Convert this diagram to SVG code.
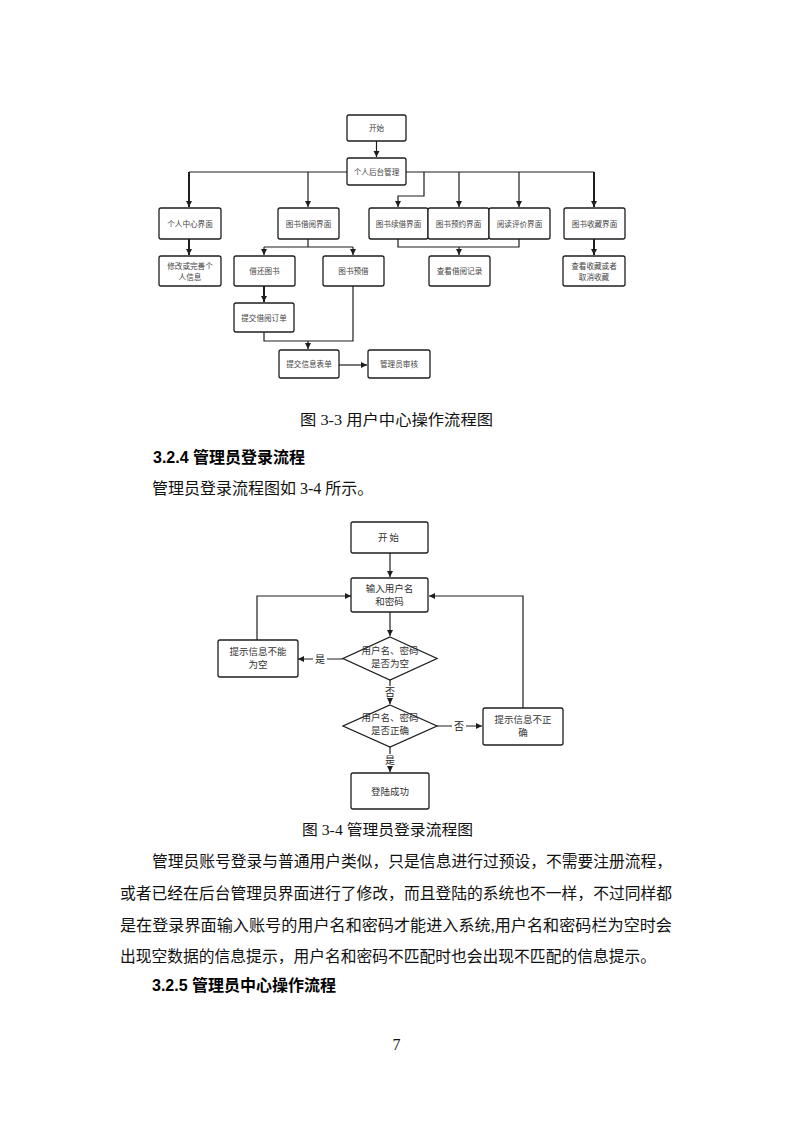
<svg xmlns="http://www.w3.org/2000/svg" width="793" height="1122" viewBox="0 0 793 1122">
<style>
.bg{fill:#fff}
.box{fill:#fff;stroke:#1e1e1e;stroke-width:1.3}
.c{fill:none;stroke:#1e1e1e;stroke-width:1.2}
.thick{stroke-width:2}
.t{font-family:"Noto Sans CJK SC","Noto Sans",sans-serif;font-size:7.6px;fill:#444;text-anchor:middle}
.t2{font-family:"Noto Sans CJK SC","Noto Sans",sans-serif;font-size:9.5px;fill:#333;text-anchor:middle}
.lab{font-family:"Noto Sans CJK SC","Noto Sans",sans-serif;font-size:10px;fill:#222;text-anchor:middle}
.p{font-family:"Liberation Serif","Noto Sans CJK SC",serif;font-size:16px;fill:#111}
.cap{font-family:"Liberation Serif","Noto Sans CJK SC",serif;font-size:15px;fill:#111}
.h{font-family:"Liberation Sans","Noto Sans CJK SC",sans-serif;font-size:16px;font-weight:bold;fill:#000}
</style>
<defs>
<marker id="ar" markerUnits="userSpaceOnUse" markerWidth="7" markerHeight="7" refX="6" refY="3" orient="auto">
<path d="M0,0 L6,3 L0,6 z" fill="#1e1e1e"/>
</marker>
</defs>
<rect class="bg" x="0" y="0" width="793" height="1122"/>

<!-- Figure 3-3 connectors -->
<g id="connectors-fig33">
<path class="c" d="M376.5,141 V157" marker-end="url(#ar)"/>
<path class="c" d="M189,172 H594"/>
<path class="c thick" d="M189,172 V207" marker-end="url(#ar)"/>
<path class="c" d="M308,172 V207" marker-end="url(#ar)"/>
<path class="c" d="M424,172 V196 H398 V207" marker-end="url(#ar)"/>
<path class="c" d="M459,172 V207" marker-end="url(#ar)"/>
<path class="c" d="M519,172 V207" marker-end="url(#ar)"/>
<path class="c thick" d="M594,172 V207" marker-end="url(#ar)"/>
<path class="c thick" d="M189,239 V255" marker-end="url(#ar)"/>
<path class="c" d="M308,239 V247 M264,247 H353"/>
<path class="c" d="M264,247 V255" marker-end="url(#ar)"/>
<path class="c" d="M353,247 V255" marker-end="url(#ar)"/>
<path class="c" d="M398,239 V247 H519 V239"/>
<path class="c" d="M459,247 V255" marker-end="url(#ar)"/>
<path class="c thick" d="M594,239 V255" marker-end="url(#ar)"/>
<path class="c thick" d="M264,286 V302" marker-end="url(#ar)"/>
<path class="c" d="M264,332 V341 H353 V286"/>
<path class="c" d="M308,341 V349" marker-end="url(#ar)"/>
<path class="c" d="M339,365 H367" marker-end="url(#ar)"/>
</g>

<!-- Figure 3-3 nodes -->
<g id="n-start1"><rect class="box" x="347" y="115" width="59" height="26" rx="2"/><text class="t" x="376.5" y="131">开始</text></g>
<g id="n-backend"><rect class="box" x="347" y="158" width="59" height="27" rx="2"/><text class="t" x="376.5" y="174.5">个人后台管理</text></g>
<g id="n-center"><rect class="box" x="159" y="208" width="62" height="31" rx="2"/><text class="t" x="190" y="226.5">个人中心界面</text></g>
<g id="n-borrow"><rect class="box" x="278" y="208" width="61" height="31" rx="2"/><text class="t" x="308.5" y="226.5">图书借阅界面</text></g>
<g id="n-renew"><rect class="box" x="369" y="208" width="59" height="31" rx="2"/><text class="t" x="398.5" y="226.5">图书续借界面</text></g>
<g id="n-reserve"><rect class="box" x="428" y="208" width="61" height="31" rx="2"/><text class="t" x="458.5" y="226.5">图书预约界面</text></g>
<g id="n-review"><rect class="box" x="489" y="208" width="61" height="31" rx="2"/><text class="t" x="519.5" y="226.5">阅读评价界面</text></g>
<g id="n-collect"><rect class="box" x="564" y="208" width="61" height="31" rx="2"/><text class="t" x="594.5" y="226.5">图书收藏界面</text></g>
<g id="n-modify"><rect class="box" x="159" y="256" width="62" height="30" rx="2"/><text class="t" x="190" y="268.5">修改或完善个</text><text class="t" x="190" y="279.5">人信息</text></g>
<g id="n-return"><rect class="box" x="234" y="256" width="61" height="30" rx="2"/><text class="t" x="264.5" y="274">借还图书</text></g>
<g id="n-prebook"><rect class="box" x="323" y="256" width="61" height="30" rx="2"/><text class="t" x="353.5" y="274">图书预借</text></g>
<g id="n-record"><rect class="box" x="429" y="256" width="61" height="30" rx="2"/><text class="t" x="459.5" y="274">查看借阅记录</text></g>
<g id="n-viewcollect"><rect class="box" x="563" y="256" width="62" height="30" rx="2"/><text class="t" x="594" y="268.5">查看收藏或者</text><text class="t" x="594" y="279.5">取消收藏</text></g>
<g id="n-order"><rect class="box" x="234" y="303" width="60" height="29" rx="2"/><text class="t" x="264" y="320.5">提交借阅订单</text></g>
<g id="n-form"><rect class="box" x="279" y="350" width="60" height="28" rx="2"/><text class="t" x="309" y="367">提交信息表单</text></g>
<g id="n-audit"><rect class="box" x="368" y="350" width="62" height="28" rx="2"/><text class="t" x="399" y="367">管理员审核</text></g>

<!-- Texts -->
<text class="cap" x="300" y="425" textLength="193" lengthAdjust="spacingAndGlyphs">图 3-3 用户中心操作流程图</text>
<text class="h" x="153" y="463">3.2.4 管理员登录流程</text>
<text class="p" x="152" y="494">管理员登录流程图如 3-4 所示。</text>

<!-- Figure 3-4 connectors -->
<g id="connectors-fig34">
<path class="c" d="M390,553 V577" marker-end="url(#ar)"/>
<path class="c" d="M390,612 V636" marker-end="url(#ar)"/>
<path class="c" d="M343,659 H298" marker-end="url(#ar)"/>
<path class="c" d="M257,640 V596 H351" marker-end="url(#ar)"/>
<path class="c" d="M390,680 V704" marker-end="url(#ar)"/>
<path class="c" d="M437,726 H482" marker-end="url(#ar)"/>
<path class="c" d="M523,708 V596 H429" marker-end="url(#ar)"/>
<path class="c" d="M390,747 V772" marker-end="url(#ar)"/>
<rect class="bg" x="313" y="652" width="14" height="13"/><text class="lab" x="320" y="662.5">是</text>
<rect class="bg" x="384" y="686" width="12" height="12"/><text class="lab" x="390" y="695.5">否</text>
<rect class="bg" x="452" y="720" width="14" height="12"/><text class="lab" x="459" y="729.5">否</text>
<rect class="bg" x="384" y="754" width="12" height="12"/><text class="lab" x="390" y="763.5">是</text>
</g>

<!-- Figure 3-4 nodes -->
<g id="m-start"><rect class="box" x="351" y="522" width="77" height="31" rx="2"/><text class="t2" x="389.5" y="541" letter-spacing="2">开始</text></g>
<g id="m-input"><rect class="box" x="351" y="578" width="77" height="34" rx="2"/><text class="t2" x="389.5" y="592">输入用户名</text><text class="t2" x="389.5" y="605">和密码</text></g>
<g id="m-empty"><polygon class="box" points="390,637 437,658.5 390,680 343,658.5"/><text class="t2" x="390" y="654">用户名、密码</text><text class="t2" x="390" y="667">是否为空</text></g>
<g id="m-emptytip"><rect class="box" x="218" y="640" width="80" height="37" rx="2"/><text class="t2" x="258" y="655">提示信息不能</text><text class="t2" x="258" y="668">为空</text></g>
<g id="m-correct"><polygon class="box" points="390,705 437,726 390,747 343,726"/><text class="t2" x="390" y="721">用户名、密码</text><text class="t2" x="390" y="734">是否正确</text></g>
<g id="m-wrongtip"><rect class="box" x="483" y="708" width="80" height="37" rx="2"/><text class="t2" x="523" y="723">提示信息不正</text><text class="t2" x="523" y="736">确</text></g>
<g id="m-success"><rect class="box" x="351" y="773" width="78" height="36" rx="2"/><text class="t2" x="390" y="795">登陆成功</text></g>

<text class="cap" x="302" y="835" textLength="171" lengthAdjust="spacingAndGlyphs">图 3-4 管理员登录流程图</text>
<text class="p" x="152" y="867" textLength="520" lengthAdjust="spacingAndGlyphs">管理员账号登录与普通用户类似，只是信息进行过预设，不需要注册流程，</text>
<text class="p" x="120" y="899" textLength="552" lengthAdjust="spacingAndGlyphs">或者已经在后台管理员界面进行了修改，而且登陆的系统也不一样，不过同样都</text>
<text class="p" x="120" y="931" textLength="552" lengthAdjust="spacingAndGlyphs">是在登录界面输入账号的用户名和密码才能进入系统,用户名和密码栏为空时会</text>
<text class="p" x="120" y="962" textLength="536" lengthAdjust="spacingAndGlyphs">出现空数据的信息提示，用户名和密码不匹配时也会出现不匹配的信息提示。</text>
<text class="h" x="152" y="991">3.2.5 管理员中心操作流程</text>
<text class="p" x="396.5" y="1050" text-anchor="middle" font-size="11">7</text>
</svg>
